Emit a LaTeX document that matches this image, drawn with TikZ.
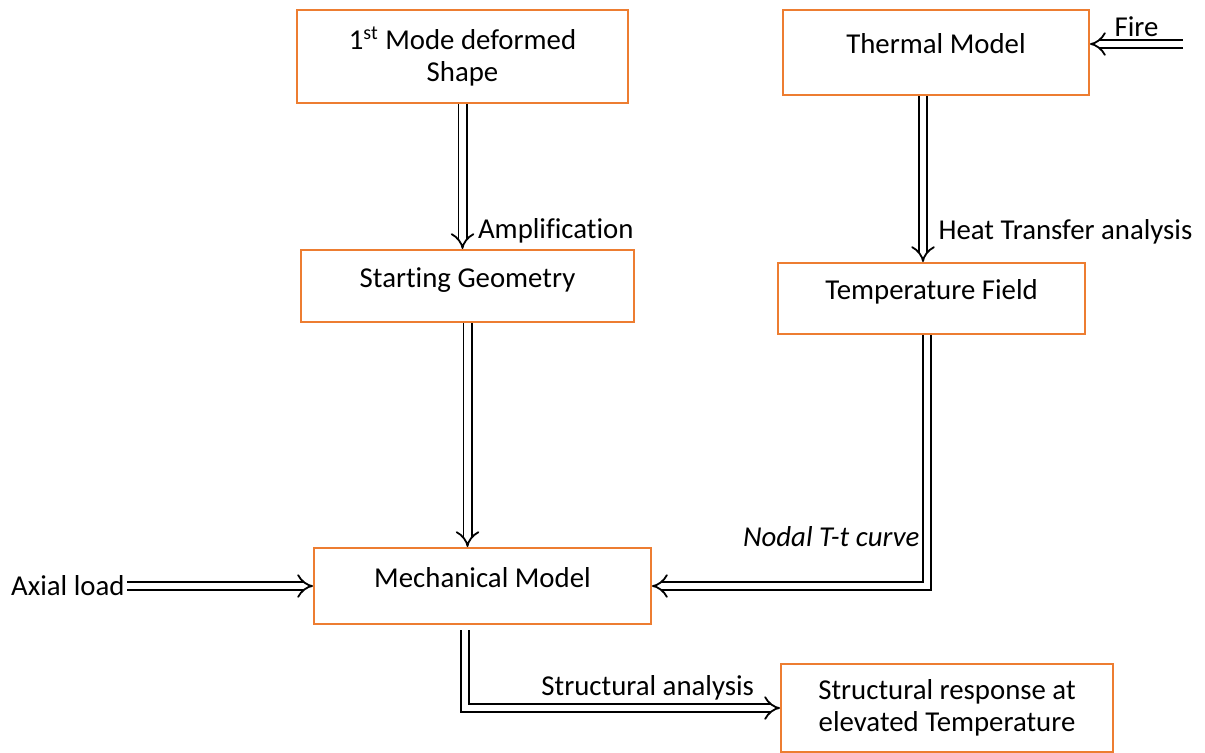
\documentclass[tikz,border=0pt]{standalone}
\usepackage{fontspec}
\setmainfont{Carlito}[Ligatures=NoCommon]
\usetikzlibrary{arrows.meta,positioning}
\definecolor{boxorange}{RGB}{237,125,49}

\begin{document}
\begin{tikzpicture}[x=1pt, y=1pt, on grid,
    every node/.style={font=\fontsize{14.4pt}{16pt}\selectfont},
    box/.style={draw=boxorange, line width=1pt, align=center, inner sep=0pt},
    onebox/.style={box, text height=6pt, text depth=5pt},
    pipe/.style={double distance=3.2pt, line width=0.9pt, -{Implies}}]
  \useasboundingbox (0,0) rectangle (602.5,-376);

  \node[box, minimum width=165.5pt, minimum height=46.5pt] (mode) at (231.25,-28.25) {1\textsuperscript{st} Mode deformed\\Shape};
  \node[onebox, minimum width=153pt, minimum height=42.5pt, above right=2pt and 236.75pt of mode] (thermal) {Thermal Model};
  \node[onebox, minimum width=166.5pt, minimum height=36pt, below right=114.75pt and 2.5pt of mode] (geom) {Starting Geometry};
  \node[onebox, minimum width=153.5pt, minimum height=35.5pt, below left=123pt and 2.25pt of thermal] (temp) {Temperature Field};
  \node[onebox, minimum width=168.5pt, minimum height=38pt, below right=150pt and 7.5pt of geom] (mech) {Mechanical Model};
  \node[box, minimum width=166pt, minimum height=44pt, below right=61pt and 232.25pt of mech] (resp) {Structural response at\\elevated Temperature};
  \node[on grid=false, left=93pt of mech, inner sep=1pt] (axial) {Axial load};
  \coordinate (firein) at ([xshift=46.5pt, yshift=4.25pt]thermal.east);

  \draw[pipe] (mode.south) -- node[pos=1, anchor=west, xshift=4pt, yshift=9pt] (amp) {Amplification} (mode.south |- geom.north);
  \draw[pipe] ([xshift=-6.5pt]thermal.south) -- node[pos=1, anchor=west, xshift=4pt, yshift=15pt] (heat) {Heat Transfer analysis} ([xshift=-6.5pt]thermal.south |- temp.north);
  \draw[pipe] (geom.south) -- (geom.south |- mech.north);
  \draw[pipe] ([xshift=-2.25pt]temp.south) |- node[pos=0.5, anchor=east, yshift=24.5pt] (nodal) {\itshape Nodal T-t curve} (mech.east);
  \draw[pipe] (axial.east) -- (mech.west);
  \draw[pipe] (firein) -- node[above] (firetxt) {Fire} (thermal.east |- firein);
  \draw[pipe, shorten <=2.5pt] ([xshift=-8.75pt]mech.south) |- node[pos=0.79, above] (struct) {Structural analysis} (resp.west);
\end{tikzpicture}
\end{document}
